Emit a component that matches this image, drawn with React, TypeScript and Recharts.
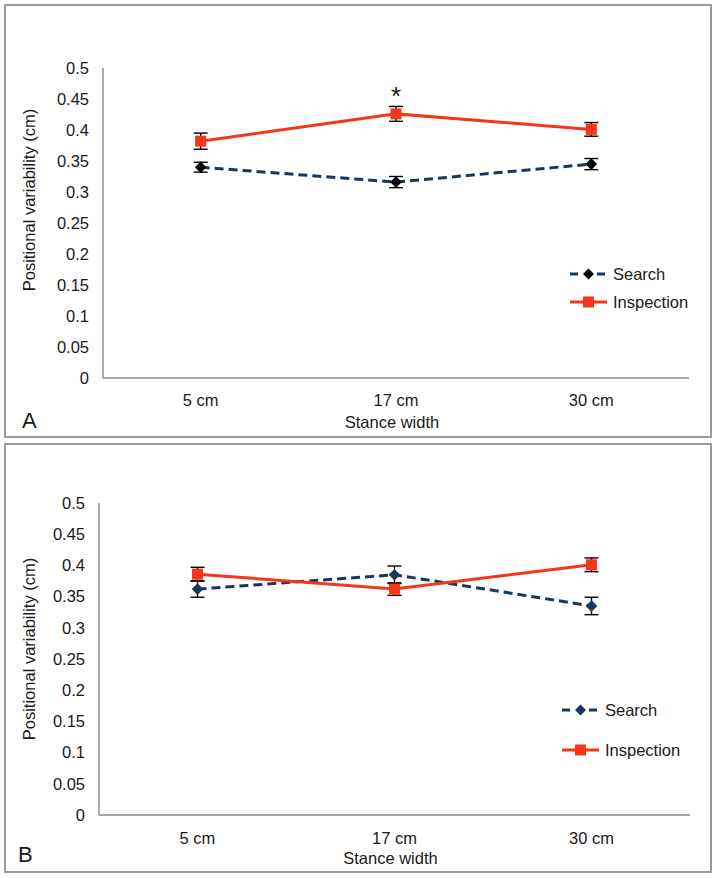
import React from 'react';
import { LineChart, Line, XAxis, YAxis, ErrorBar, Legend, LabelList, Label } from 'recharts';

// ---------- data ----------
const categories = ['5 cm', '17 cm', '30 cm'];
const yTicks = [0, 0.05, 0.1, 0.15, 0.2, 0.25, 0.3, 0.35, 0.4, 0.45, 0.5];
const seriesNames = ['Search', 'Inspection'];

const searchA = [0.34, 0.316, 0.345];
const searchAErr = [0.008, 0.009, 0.009];
const inspectionA = [0.382, 0.426, 0.401];
const inspectionAErr = [0.013, 0.012, 0.011];
const marksA = ['', '*', ''];

const searchB = [0.362, 0.385, 0.335];
const searchBErr = [0.013, 0.014, 0.014];
const inspectionB = [0.386, 0.362, 0.401];
const inspectionBErr = [0.011, 0.01, 0.011];
const marksB = ['', '', ''];

const yAxisTitle = 'Positional variability (cm)';
const xAxisTitle = 'Stance width';

// ---------- styles ----------
const FONT = '"Liberation Sans", Arial, Helvetica, sans-serif';
const TEXT = '#1a1a1a';
const RED = '#f4361a';
const NAVY = '#17375e';
const AXIS = '#8c8c8c';
const FS = 16.5;

const buildRows = (s: number[], se: number[], ins: number[], ie: number[], m: string[]) =>
  categories.map((c, k) => ({
    cat: c,
    search: s[k],
    searchErr: se[k],
    inspection: ins[k],
    inspectionErr: ie[k],
    mark: m[k],
  }));

const dataA = buildRows(searchA, searchAErr, inspectionA, inspectionAErr, marksA);
const dataB = buildRows(searchB, searchBErr, inspectionB, inspectionBErr, marksB);

const makeDiamond = (fill: string) => (props: any) => {
  const { cx, cy, index } = props;
  if (cx == null || cy == null) return <g key={`d${index}`} />;
  const r = 5.8;
  return (
    <path
      key={`d${index}`}
      d={`M${cx},${cy - r}L${cx + r},${cy}L${cx},${cy + r}L${cx - r},${cy}Z`}
      fill={fill}
    />
  );
};

const squareDot = (props: any) => {
  const { cx, cy, index } = props;
  if (cx == null || cy == null) return <g key={`s${index}`} />;
  return <rect key={`s${index}`} x={cx - 5.5} y={cy - 5.5} width={11} height={11} fill={RED} />;
};

const asteriskLabel = (props: any) => {
  const { x, y, value } = props;
  if (!value) return null;
  return (
    <text x={x} y={y - 9} textAnchor="middle" fontSize={26} fontFamily={FONT} fill={TEXT}>
      {value}
    </text>
  );
};

const makeLegend = (gap: number, diamondFill: string) => () => (
  <div style={{ fontFamily: FONT, fontSize: FS, color: TEXT, lineHeight: '20px' }}>
    {seriesNames.map((name, i) => (
      <div
        key={name}
        style={{ display: 'flex', alignItems: 'center', height: 20, marginTop: i ? gap : 0 }}
      >
        <svg width={37} height={14} style={{ display: 'block', overflow: 'visible' }}>
          {i === 0 ? (
            <g>
              <line x1={0} y1={7} x2={8} y2={7} stroke={NAVY} strokeWidth={3} />
              <line x1={27} y1={7} x2={35} y2={7} stroke={NAVY} strokeWidth={3} />
              <path d="M18.5,1.5L24,7L18.5,12.5L13,7Z" fill={diamondFill} />
            </g>
          ) : (
            <g>
              <line x1={0} y1={7} x2={37} y2={7} stroke={RED} strokeWidth={3} />
              <rect x={13} y={1.5} width={11} height={11} fill={RED} />
            </g>
          )}
        </svg>
        <span style={{ marginLeft: 6, whiteSpace: 'nowrap' }}>{name}</span>
      </div>
    ))}
  </div>
);

type PanelProps = {
  data: any[];
  height: number;
  margin: { top: number; right: number; bottom: number; left: number };
  xTickMargin: number;
  yTitleX: number;
  yTitleShift: number;
  xTitleBaseline: number;
  legendPos: { left: number; top: number };
  legendGap: number;
  diamondFill: string;
};

const Panel = (p: PanelProps) => {
  const plotW = 716 - p.margin.left - 60 - p.margin.right;
  const pad = plotW / 6;
  return (
    <LineChart
      width={716}
      height={p.height}
      data={p.data}
      margin={p.margin}
      style={{ fontFamily: FONT }}
    >
      <XAxis
        dataKey="cat"
        height={30}
        padding={{ left: pad, right: pad }}
        axisLine={{ stroke: AXIS, strokeWidth: 1.5 }}
        tickLine={false}
        tickSize={6}
        tickMargin={p.xTickMargin}
        tick={{ fill: TEXT, fontSize: FS, fontFamily: FONT }}
        interval={0}
      >
        <Label
          content={(lp: any) => {
            const vb = lp.viewBox || {};
            return (
              <text
                x={vb.x + vb.width / 2 - 4}
                y={p.xTitleBaseline}
                textAnchor="middle"
                fontSize={FS}
                fontFamily={FONT}
                fill={TEXT}
              >
                {xAxisTitle}
              </text>
            );
          }}
        />
      </XAxis>
      <YAxis
        width={60}
        domain={[0, 0.5]}
        ticks={yTicks}
        interval={0}
        axisLine={{ stroke: AXIS, strokeWidth: 1.5 }}
        tickLine={false}
        tickSize={6}
        tickMargin={8}
        tick={{ fill: TEXT, fontSize: FS, fontFamily: FONT }}
      >
        <Label
          content={(lp: any) => {
            const vb = lp.viewBox || {};
            const cy = vb.y + vb.height / 2 + p.yTitleShift;
            return (
              <text
                x={p.yTitleX}
                y={cy}
                transform={`rotate(-90, ${p.yTitleX}, ${cy})`}
                textAnchor="middle"
                dominantBaseline="central"
                fontSize={FS}
                fontFamily={FONT}
                fill={TEXT}
              >
                {yAxisTitle}
              </text>
            );
          }}
        />
      </YAxis>
      <Legend
        layout="vertical"
        align="center"
        verticalAlign="middle"
        wrapperStyle={{ left: p.legendPos.left, top: p.legendPos.top, width: 150 }}
        content={makeLegend(p.legendGap, p.diamondFill)}
      />
      <Line
        name={seriesNames[0]}
        dataKey="search"
        stroke={NAVY}
        strokeWidth={3}
        strokeDasharray="9 5"
        dot={makeDiamond(p.diamondFill)}
        activeDot={false}
        isAnimationActive={false}
      >
        <ErrorBar dataKey="searchErr" width={7} stroke="#000" strokeWidth={1.4} direction="y" />
      </Line>
      <Line
        name={seriesNames[1]}
        dataKey="inspection"
        stroke={RED}
        strokeWidth={3}
        dot={squareDot}
        activeDot={false}
        isAnimationActive={false}
      >
        <ErrorBar dataKey="inspectionErr" width={7} stroke="#000" strokeWidth={1.4} direction="y" />
        <LabelList dataKey="mark" content={asteriskLabel} />
      </Line>
    </LineChart>
  );
};

export default function App() {
  return (
    <div
      style={{
        position: 'absolute',
        left: 0,
        top: 0,
        width: 716,
        height: 878,
        background: '#fff',
        fontFamily: FONT,
      }}
    >
      <div
        style={{
          position: 'absolute',
          left: 4,
          top: 4,
          width: 708,
          height: 434,
          border: '2px solid #9a9a9a',
          boxSizing: 'border-box',
        }}
      />
      <div
        style={{
          position: 'absolute',
          left: 4,
          top: 443,
          width: 708,
          height: 430,
          border: '2px solid #9a9a9a',
          boxSizing: 'border-box',
        }}
      />
      <div style={{ position: 'absolute', left: 0, top: 0, width: 716, height: 440 }}>
        <Panel
          data={dataA}
          height={440}
          margin={{ top: 68, right: 27, bottom: 32, left: 43 }}
          xTickMargin={10}
          yTitleX={29}
          yTitleShift={-23}
          xTitleBaseline={428}
          legendPos={{ left: 570, top: 264 }}
          legendGap={8}
          diamondFill="#000"
        />
      </div>
      <div style={{ position: 'absolute', left: 0, top: 440, width: 716, height: 438 }}>
        <Panel
          data={dataB}
          height={438}
          margin={{ top: 63, right: 26, bottom: 33, left: 39 }}
          xTickMargin={11}
          yTitleX={29}
          yTitleShift={-10}
          xTitleBaseline={424}
          legendPos={{ left: 562, top: 260 }}
          legendGap={20}
          diamondFill={NAVY}
        />
      </div>
      <svg
        width={716}
        height={878}
        style={{ position: 'absolute', left: 0, top: 0, pointerEvents: 'none' }}
      >
        <text x={22} y={428} fontSize={22} fontFamily={FONT} fill={TEXT}>
          A
        </text>
        <text x={18} y={862} fontSize={22} fontFamily={FONT} fill={TEXT}>
          B
        </text>
      </svg>
    </div>
  );
}
